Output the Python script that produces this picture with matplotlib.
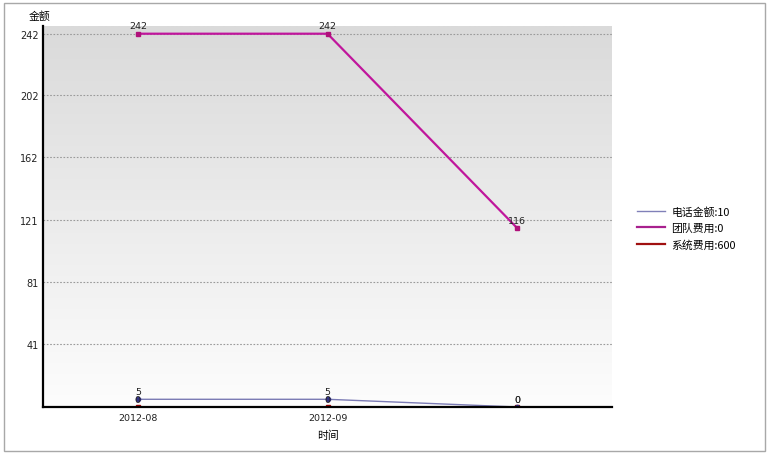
import numpy as np
import matplotlib.pyplot as plt
from matplotlib.patches import Rectangle
from matplotlib.lines import Line2D
from matplotlib.colors import LinearSegmentedColormap

plt.rcParams['font.family'] = ['Noto Sans CJK SC', 'DejaVu Sans']

# --- data ---
months = ['2012-08', '2012-09', '']
phone = [5, 5, 0]          # 电话金额
team = [242, 242, 116]     # 团队费用
system = [0, 0, 0]         # 系统费用
series_names = ['电话金额:10', '团队费用:0', '系统费用:600']
y_ticks = [41, 81, 121, 162, 202, 242]

fig = plt.figure(figsize=(7.68, 4.56), dpi=100)
fig.patches.append(Rectangle((4 / 768, 4 / 456), 761 / 768, 448 / 456,
                             transform=fig.transFigure, fill=False,
                             edgecolor='#a8a8a8', linewidth=1.0))

ax = fig.add_axes([43 / 768, 48 / 456, 569 / 768, 381 / 456])
x = np.arange(len(months))

# gradient background: gray at top, white at bottom
cmap = LinearSegmentedColormap.from_list('bg', ['#fdfdfd', '#dadada'])
grad = np.linspace(0, 1, 256).reshape(-1, 1)
ax.imshow(grad, extent=[0, 1, 0, 1], transform=ax.transAxes, aspect='auto',
          cmap=cmap, origin='lower', zorder=0)

for yt in y_ticks:
    ax.axhline(yt, color='#9a9a9a', linestyle=(0, (1.5, 1.5)), linewidth=0.8, zorder=1)

ax.plot(x, system, '-s', color='#a00000', markersize=2.5, linewidth=1.2, zorder=2)
ax.plot(x, phone, '-o', color='#7a7ab4', markersize=3, markerfacecolor='#303080',
        markeredgecolor='#303080', linewidth=1.0, zorder=3)
ax.plot(x, team, '-s', color='#c0169c', markersize=3, markerfacecolor='#b0107a',
        markeredgecolor='#b0107a', linewidth=1.6, zorder=3)

for vals in (phone, system, team):
    for xi, v in zip(x, vals):
        ax.annotate(str(v), (xi, v), textcoords='offset points', xytext=(0, 2.5),
                    ha='center', va='bottom', fontsize=6.8, color='#222222',
                    family=['DejaVu Sans'], zorder=4)

ax.set_xlim(-0.5, 2.5)
ax.set_ylim(0, 247)
ax.set_xticks(x)
ax.set_xticklabels(months, fontsize=6.8, color='#222222', family=['DejaVu Sans'])
ax.set_yticks(y_ticks)
ax.set_yticklabels([str(t) for t in y_ticks], fontsize=7, color='#222222',
                   family=['DejaVu Sans'])
ax.tick_params(axis='y', length=0, pad=3)
ax.tick_params(axis='x', length=0, pad=4)

for side in ['top', 'right']:
    ax.spines[side].set_visible(False)
for side in ['left', 'bottom']:
    ax.spines[side].set_linewidth(1.6)
    ax.spines[side].set_color('black')
    ax.spines[side].set_zorder(5)

fig.text(40 / 768, 1 - 17 / 456, '金额', fontsize=7.8, ha='center', va='center')
fig.text(328 / 768, 1 - 436 / 456, '时间', fontsize=7.8, ha='center', va='center')

leg_handles = [Line2D([], [], color=c, linewidth=lw) for c, lw in
               [('#8080b8', 1.0), ('#a8208e', 1.6), ('#a01010', 1.6)]]
fig.legend(leg_handles, series_names, loc='center left',
           bbox_to_anchor=(627 / 768, 1 - 229 / 456), frameon=False,
           fontsize=7.8, handlelength=2.6, handletextpad=0.6, labelspacing=0.55)

plt.savefig('out.png', dpi=100)
